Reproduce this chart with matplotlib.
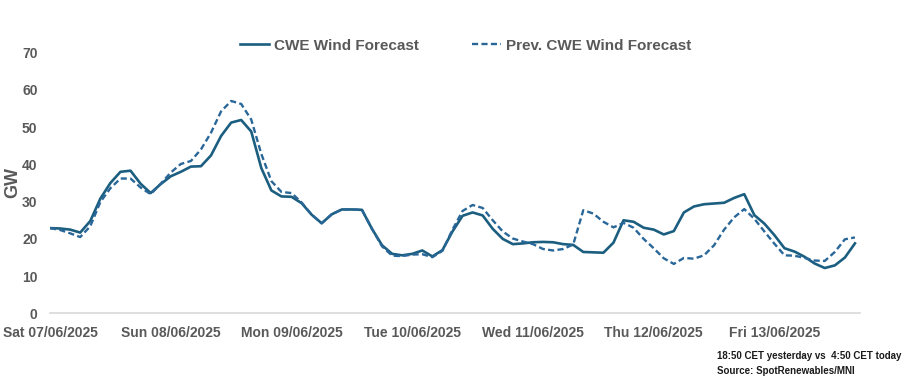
import matplotlib
matplotlib.use("Agg")
import matplotlib.pyplot as plt
import matplotlib.dates as mdates
import pandas as pd

# 2-hourly samples from Sat 07/06/2025 00:00 (GW)
start = "2025-06-07 00:00"
cwe_wind = [22.9, 22.8, 22.5, 21.7, 24.8, 30.8, 35.0, 38.0, 38.3, 34.8,
            32.3, 34.7, 36.8, 38.0, 39.4, 39.5, 42.4, 47.6, 51.2, 51.9,
            48.8, 39.0, 33.0, 31.4, 31.3, 29.6, 26.5, 24.2, 26.6, 27.9,
            27.9, 27.8, 22.7, 18.3, 16.0, 15.6, 16.0, 16.9, 15.3, 17.0,
            22.0, 26.2, 27.1, 26.3, 22.7, 20.0, 18.6, 18.8, 19.1, 19.2,
            19.1, 18.6, 18.4, 16.5, 16.4, 16.3, 19.0, 25.0, 24.6, 23.0,
            22.5, 21.2, 22.1, 27.1, 28.7, 29.3, 29.5, 29.7, 31.0, 32.0,
            26.4, 24.1, 21.0, 17.5, 16.6, 15.2, 13.4, 12.2, 12.9, 15.0,
            18.8]
prev_cwe_wind = [22.9, 22.4, 21.5, 20.5, 23.4, 29.9, 33.6, 36.2, 36.2, 33.8,
                 32.0, 34.8, 37.8, 40.1, 40.9, 44.0, 48.5, 54.2, 57.0, 56.2,
                 52.0, 42.8, 35.5, 32.6, 32.3, 29.8, 26.5, 24.2, 26.6, 27.9,
                 27.9, 27.8, 22.7, 18.0, 15.5, 15.4, 15.8, 15.9, 15.1, 16.8,
                 22.5, 27.5, 29.1, 28.3, 25.0, 22.0, 20.1, 19.3, 18.6, 17.3,
                 16.9, 17.3, 18.5, 27.7, 26.8, 24.6, 23.1, 24.3, 23.0, 20.0,
                 17.5, 14.8, 13.3, 14.9, 14.7, 15.6, 18.3, 22.5, 25.8, 28.0,
                 25.4, 22.0, 18.7, 15.6, 15.5, 14.9, 14.2, 14.1, 16.5, 19.9,
                 20.4]
yticks = [0, 10, 20, 30, 40, 50, 60, 70]
note = "18:50 CET yesterday vs  4:50 CET today\nSource: SpotRenewables/MNI"

times = pd.date_range(start, periods=len(cwe_wind), freq="2h")

gray = "#595959"
font = ["Liberation Sans Narrow", "Liberation Sans", "DejaVu Sans"]
plt.rcParams["font.family"] = font

fig = plt.figure(figsize=(9.08, 3.84), dpi=100)
ax = fig.add_axes([0.0551, 0.1836, 0.892, 0.6797])

ax.plot(times, cwe_wind, color="#1b5e80", lw=1.9, label="CWE Wind Forecast")
ax.plot(times, prev_cwe_wind, color="#2a6799", lw=1.7, dashes=(2.6, 1.4),
        label="Prev. CWE Wind Forecast")

ax.set_ylim(0, 70)
ax.set_yticks(yticks)
ax.set_xlim(times[0], times[0] + pd.Timedelta(hours=161))
ax.xaxis.set_major_locator(mdates.DayLocator())
ax.xaxis.set_major_formatter(mdates.DateFormatter("%a %d/%m/%Y"))

for s in ["top", "right", "left"]:
    ax.spines[s].set_visible(False)
ax.spines["bottom"].set_color("#d9d9d9")
ax.spines["bottom"].set_linewidth(1.2)
ax.tick_params(axis="both", length=0, colors=gray, labelsize=10)
ax.tick_params(axis="y", pad=9)
ax.tick_params(axis="x", pad=9)
for lab in ax.get_xticklabels() + ax.get_yticklabels():
    lab.set_fontweight("bold")

ax.set_ylabel("GW", color=gray, fontsize=13, fontweight="bold")
ax.yaxis.set_label_coords(-0.035, 0.5)

leg = ax.legend(loc="upper center", bbox_to_anchor=(0.513, 1.105), ncol=2,
                frameon=False, handlelength=1.9, columnspacing=3.5,
                handletextpad=0.3, prop={"family": font, "weight": "bold", "size": 11})
for t in leg.get_texts():
    t.set_color(gray)

fig.text(0.79, 0.022, note, fontsize=7, fontweight="bold", color="#1a1a1a",
         ha="left", va="bottom", linespacing=1.6)

fig.savefig("out.png", dpi=100)
